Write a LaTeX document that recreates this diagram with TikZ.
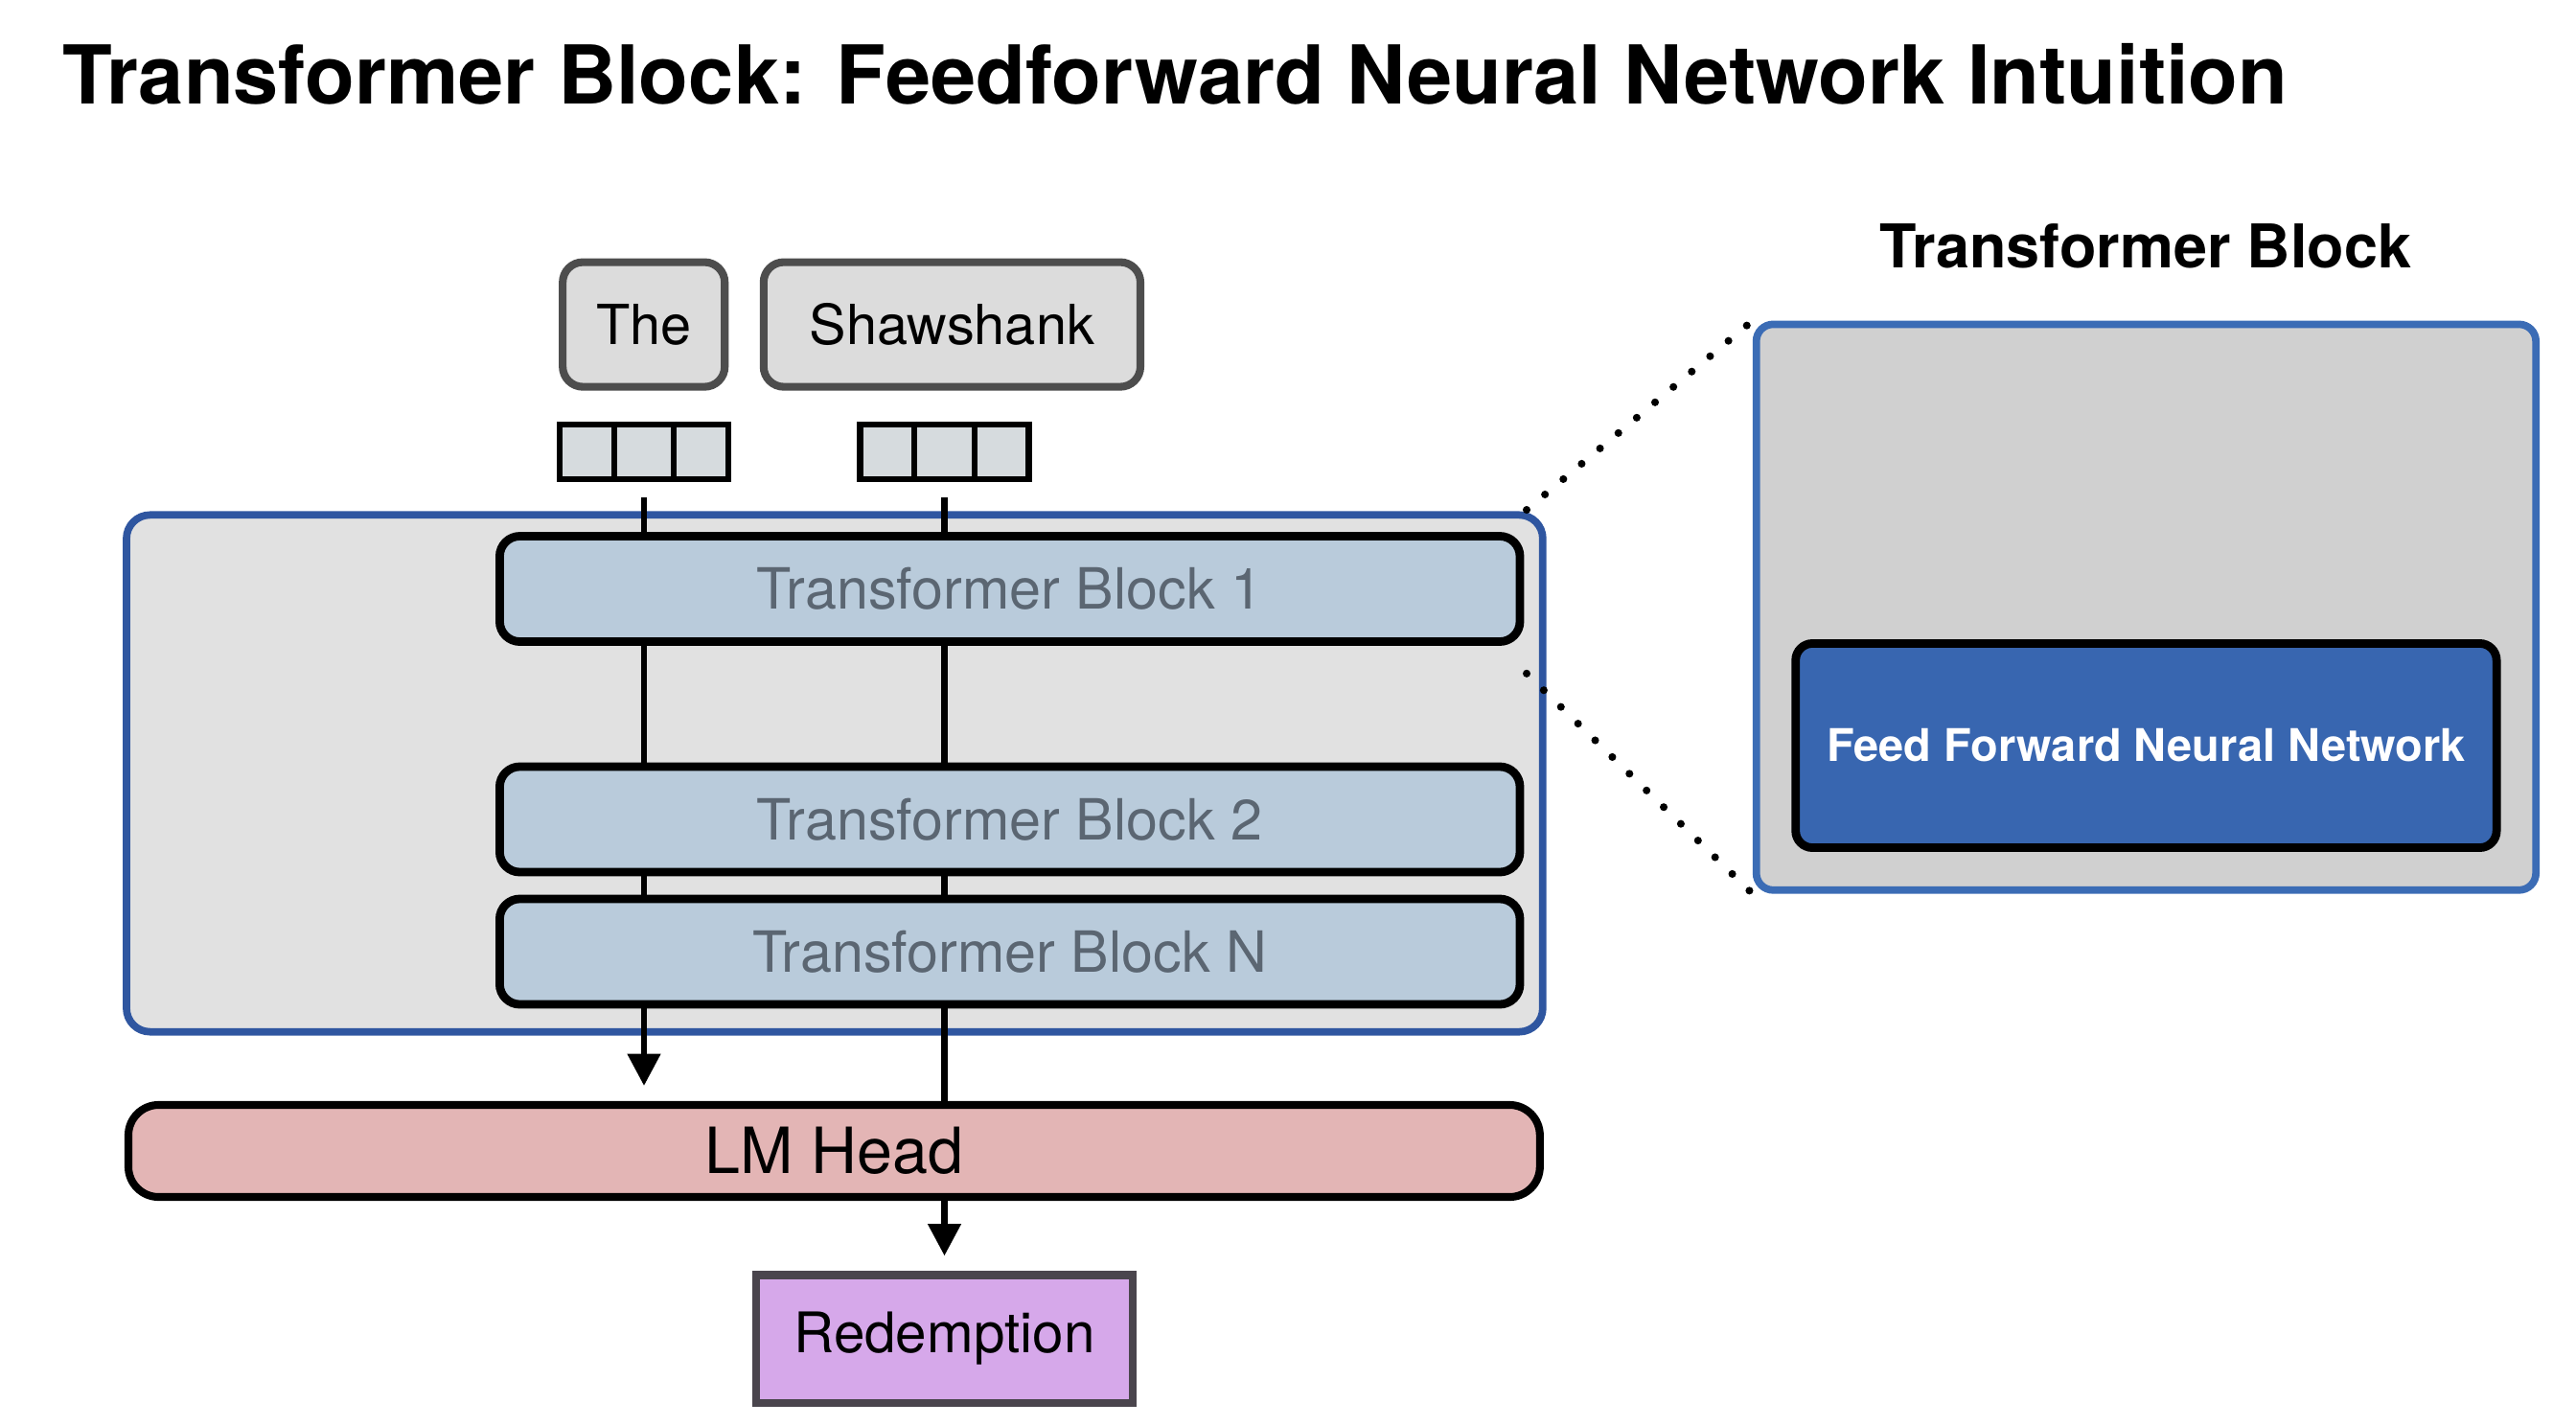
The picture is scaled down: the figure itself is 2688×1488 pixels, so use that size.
\documentclass[tikz,border=0pt]{standalone}
\usepackage{fontspec}
\setmainfont{TeX Gyre Heros}
\usepackage{tikz}
\usetikzlibrary{arrows.meta,calc,positioning}
\definecolor{wordfill}{HTML}{DCDCDC}
\definecolor{wordline}{HTML}{4D4D4D}
\definecolor{vecfill}{HTML}{D6DBDE}
\definecolor{stackfill}{HTML}{E1E1E1}
\definecolor{stackline}{HTML}{2F56A0}
\definecolor{blockfill}{HTML}{B9CBDB}
\definecolor{blocktext}{HTML}{5B6672}
\definecolor{headfill}{HTML}{E3B5B5}
\definecolor{outfill}{HTML}{D6A8EA}
\definecolor{outline}{HTML}{4A454D}
\definecolor{zoomfill}{HTML}{D0D0D0}
\definecolor{zoomline}{HTML}{3B6CB5}
\definecolor{ffnfill}{HTML}{3866B0}

\begin{document}
\begin{tikzpicture}[x=0.01cm,y=-0.01cm,
  word/.style={draw=wordline,fill=wordfill,line width=2.3pt,rounded corners=6pt,minimum height=1.3cm,font=\fontsize{16.4}{20}\selectfont},
  vec/.style={draw=black,fill=vecfill,line width=1.8pt,minimum width=1.76cm,minimum height=0.57cm},
  block/.style={draw=black,fill=blockfill,line width=2.5pt,rounded corners=6pt,minimum width=10.64cm,minimum height=1.1cm,text=blocktext,font=\fontsize{16.85}{20}\selectfont},
  link/.style={line width=1.9pt},
  arr/.style={link,-{Triangle[length=9.5pt,width=9.5pt]}},
  zoomdots/.style={line width=2.3pt,line cap=round,dash pattern=on 0pt off 7.1pt}]
\useasboundingbox (0,0) rectangle (2688,1488);
\node[anchor=base west,inner sep=0pt,font=\bfseries\fontsize{24.1}{29}\selectfont] (title) at (65,109) {Transformer Block: Feedforward Neural Network Intuition};

% input tokens and their vectors
\node[word,minimum width=1.69cm] (the) at (671.7,338.6) {The};
\node[word,minimum width=3.93cm] (shaw) at (993.4,338.6) {Shawshank};
\node[vec] (vThe) at (672,471.5) {};
\node[vec] (vShaw) at (985.5,471.5) {};
\draw[line width=1.8pt] ($(vThe.north west)+(60,0)$) -- ($(vThe.south west)+(60,0)$);
\draw[line width=1.8pt] ($(vThe.north east)-(60,0)$) -- ($(vThe.south east)-(60,0)$);
\draw[line width=1.8pt] ($(vShaw.north west)+(60,0)$) -- ($(vShaw.south west)+(60,0)$);
\draw[line width=1.8pt] ($(vShaw.north east)-(60,0)$) -- ($(vShaw.south east)-(60,0)$);

% stack of blocks
\node[draw=stackline,fill=stackfill,line width=2.2pt,rounded corners=7pt,minimum width=14.77cm,minimum height=5.39cm] (stack) at (870.9,807) {};
\node[block] (b1) at (1053.7,614.5) {Transformer Block 1};
\node[block] (b2) at (1053.7,855) {Transformer Block 2};
\node[block] (bN) at (1053.7,993) {Transformer Block N};
\draw[link] ([yshift=-0.158cm]vThe.south) -- (vThe.south |- b1.north);
\draw[link] ([yshift=-0.158cm]vShaw.south) -- (vShaw.south |- b1.north);
\draw[link] (vThe.south |- b1.south) -- (vThe.south |- b2.north);
\draw[link] (vShaw.south |- b1.south) -- (vShaw.south |- b2.north);
\draw[link] (vThe.south |- b2.south) -- (vThe.south |- bN.north);
\draw[link] (vShaw.south |- b2.south) -- (vShaw.south |- bN.north);

% head and prediction
\node[draw=black,fill=headfill,line width=2.3pt,rounded corners=9pt,minimum width=14.72cm,minimum height=0.96cm,font=\fontsize{18.9}{23}\selectfont] (head) at (870.4,1201) {LM Head};
\node[draw=outline,fill=outfill,line width=2.3pt,minimum width=3.92cm,minimum height=1.33cm,font=\fontsize{16.6}{20}\selectfont] (pred) at (985.5,1397) {Redemption};
\coordinate (theEnd) at (672,1133);
\draw[arr] (vThe.south |- bN.south) -- (theEnd);
\draw[link] (vShaw.south |- bN.south) -- (vShaw.south |- head.north);
\draw[arr,shorten >=0.16cm] (vShaw.south |- head.south) -- (pred.north);

% zoomed block
\node[font=\bfseries\fontsize{17.9}{22}\selectfont] (zoomTitle) at (2239,257) {Transformer Block};
\node[draw=zoomline,fill=zoomfill,line width=2.2pt,rounded corners=5pt,minimum width=8.13cm,minimum height=5.9cm] (zoom) at (2239.4,633.6) {};
\node[draw=black,fill=ffnfill,line width=2.5pt,rounded corners=5pt,minimum width=7.31cm,minimum height=2.13cm,text=white,font=\bfseries\fontsize{13.35}{16}\selectfont] (ffn) at (2239.4,778) {Feed Forward Neural Network};
\coordinate (zoomA) at (1593,532);
\coordinate (zoomB) at (1593,702.8);
\draw[zoomdots] (zoomA) -- (zoom.north west);
\draw[zoomdots] (zoomB) -- (zoom.south west);
\end{tikzpicture}
\end{document}
